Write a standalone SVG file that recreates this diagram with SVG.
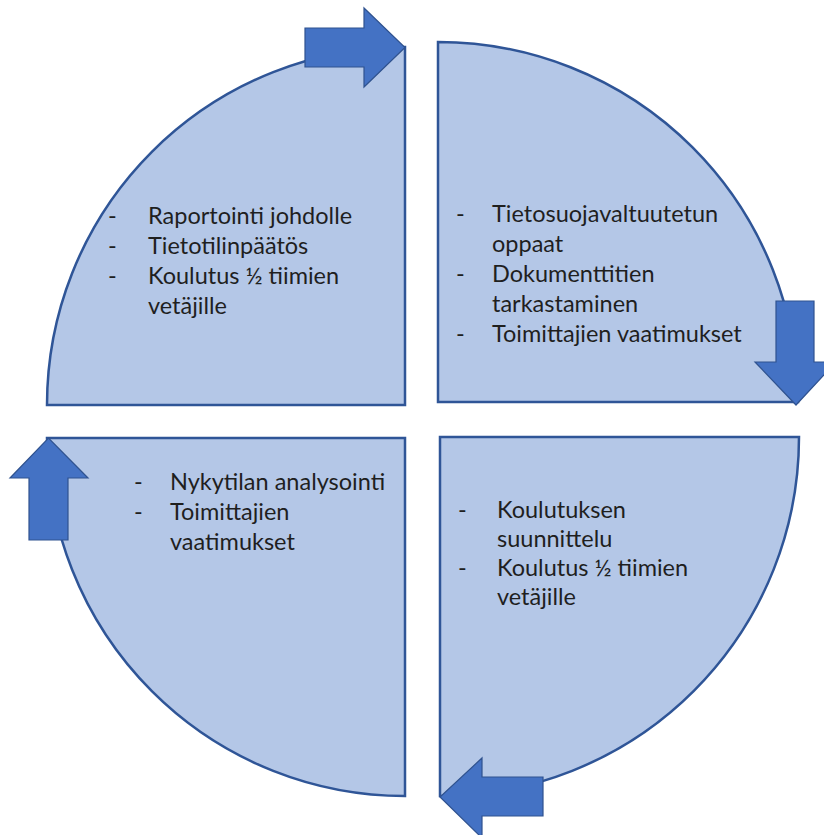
<svg xmlns="http://www.w3.org/2000/svg" width="824" height="835" viewBox="0 0 824 835">
  <style>
    .quad { fill: #B4C7E7; stroke: #2F5597; stroke-width: 2.5; stroke-linejoin: miter; }
    .arrow { fill: #4472C4; stroke: #2F528F; stroke-width: 1.2; stroke-linejoin: miter; }
    .txt { font-family: "Lato", "Liberation Sans", sans-serif; font-size: 23.5px; fill: #1F1F1F; }
  </style>
  <rect width="824" height="835" fill="#FFFFFF"/>

  <!-- four quarter-circle segments -->
  <g id="quad-top-left">
    <path class="quad" d="M405,405 L47,405 A358,358 0 0 1 405,47 Z"/>
    <g class="txt">
      <text x="108" y="224">-</text><text x="148" y="224">Raportointi johdolle</text>
      <text x="108" y="254">-</text><text x="148" y="254">Tietotilinpäätös</text>
      <text x="108" y="284">-</text><text x="148" y="284">Koulutus ½ tiimien</text>
      <text x="148" y="314">vetäjille</text>
    </g>
  </g>

  <g id="quad-top-right">
    <path class="quad" d="M438,402 L438,42 A360,360 0 0 1 798,402 Z"/>
    <g class="txt">
      <text x="456" y="222">-</text><text x="492" y="222">Tietosuojavaltuutetun</text>
      <text x="492" y="252">oppaat</text>
      <text x="456" y="282">-</text><text x="492" y="282">Dokumenttitien</text>
      <text x="492" y="312">tarkastaminen</text>
      <text x="456" y="342">-</text><text x="492" y="342">Toimittajien vaatimukset</text>
    </g>
  </g>

  <g id="quad-bottom-left">
    <path class="quad" d="M405,438 L405,796 A358,358 0 0 1 47,438 Z"/>
    <g class="txt">
      <text x="134" y="490">-</text><text x="170" y="490">Nykytilan analysointi</text>
      <text x="134" y="520">-</text><text x="170" y="520">Toimittajien</text>
      <text x="170" y="550">vaatimukset</text>
    </g>
  </g>

  <g id="quad-bottom-right">
    <path class="quad" d="M440,437 L799,437 A359,359 0 0 1 440,796 Z"/>
    <g class="txt">
      <text x="458" y="518">-</text><text x="497" y="518">Koulutuksen</text>
      <text x="497" y="547">suunnittelu</text>
      <text x="458" y="576">-</text><text x="497" y="576">Koulutus ½ tiimien</text>
      <text x="497" y="605">vetäjille</text>
    </g>
  </g>

  <!-- block arrows showing the clockwise cycle -->
  <g id="connectors">
    <path id="arrow-right" class="arrow" d="M305,28 L364,28 L364,8 L405,47.5 L364,87 L364,67 L305,67 Z"/>
    <path id="arrow-down" class="arrow" d="M776,301 L814,301 L814,362 L836,362 L796,405 L755,362 L776,362 Z"/>
    <path id="arrow-left" class="arrow" d="M543,777 L543,816 L482,816 L482,838 L440,797 L482,758 L482,777 Z"/>
    <path id="arrow-up" class="arrow" d="M29,540 L68,540 L68,478 L88,478 L48.5,438 L10,478 L29,478 Z"/>
  </g>
</svg>
